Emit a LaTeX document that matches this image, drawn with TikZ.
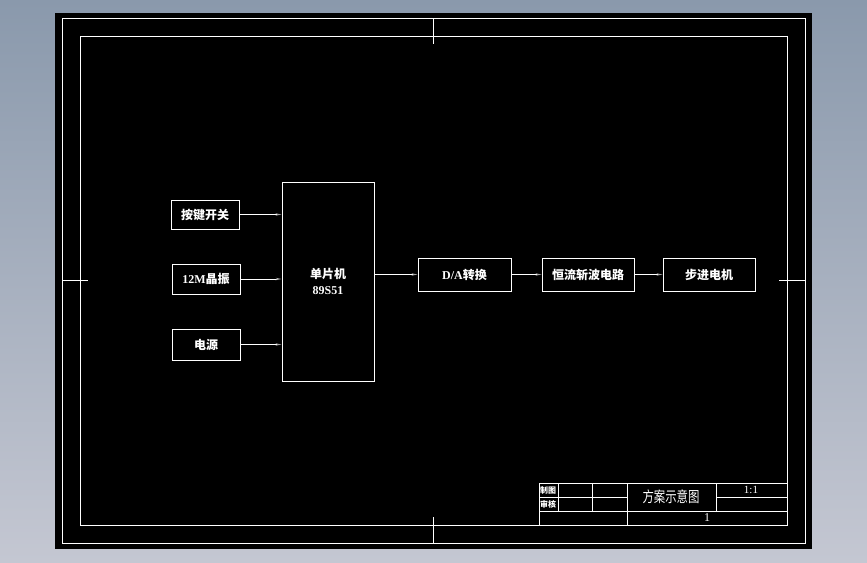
\documentclass[tikz,border=0pt]{standalone}
\usepackage{fontspec}
\setmainfont{Liberation Serif}
\newfontfamily\cjk{Noto Sans CJK SC}
\usetikzlibrary{arrows.meta, positioning, calc}
\definecolor{bgtop}{RGB}{138,153,172}
\definecolor{bgbot}{RGB}{196,199,210}
\tikzset{
  frame line/.style={
    draw=white, line width=0.9pt
  },
  blk box/.style={
    rectangle, draw=white, line width=0.9pt, fill=black,
    text=white, align=center, inner sep=1pt,
    font=\bfseries\fontsize{12}{16}\selectfont
  },
  blk arrow/.style={
    draw=white, line width=0.9pt,
    -{Stealth[length=6pt, width=2.4pt, color=gray!70]}
  },
  tb text/.style={
    text=white, inner sep=0pt, font=\cjk\fontsize{8}{9}\selectfont
  }
}

\begin{document}
\begin{tikzpicture}[x=1pt, y=-1pt]
  \useasboundingbox (0,0) rectangle (867,562);
  \shade [top color=bgtop, bottom color=bgbot] (0,0) rectangle (867,562);
  \fill [black] (55,13) rectangle (812,549);

  % drawing frame and centre marks
  \draw [frame line] (62,18) rectangle (805,543);
  \draw [frame line] (80,36) rectangle (787,525);
  \draw [frame line] (433,18) -- (433,44);
  \draw [frame line] (433,517) -- (433,543);
  \draw [frame line] (62,280) -- (88,280);
  \draw [frame line] (779,280) -- (805,280);

  % blocks
  \node (key)   [blk box, minimum width=68pt, minimum height=29pt] at (205,214.5) {{\cjk 按键开关}};
  \node (xtal)  [blk box, minimum width=68pt, minimum height=30pt] at (206,279) {12M{\cjk 晶振}};
  \node (pwr)   [blk box, minimum width=68pt, minimum height=31pt] at (206,344.5) {{\cjk 电源}};
  \node (mcu)   [blk box, minimum width=92pt, minimum height=199pt] at (328,281.5) {{\cjk 单片机}\\89S51};
  \node (da)    [blk box, minimum width=93pt, minimum height=33pt] at (464.5,274.5) {D/A{\cjk 转换}};
  \node (chop)  [blk box, minimum width=92pt, minimum height=33pt] at (588,274.5) {{\cjk 恒流斩波电路}};
  \node (motor) [blk box, minimum width=92pt, minimum height=33pt] at (709,274.5) {{\cjk 步进电机}};

  \draw [blk arrow] (key.east) -- (key.east -| mcu.west);
  \draw [blk arrow] (xtal.east) -- (xtal.east -| mcu.west);
  \draw [blk arrow] (pwr.east) -- (pwr.east -| mcu.west);
  \draw [blk arrow] (da.west -| mcu.east) -- (da.west);
  \draw [blk arrow] (da) -- (chop);
  \draw [blk arrow] (chop) -- (motor);

  % title block
  \draw [frame line] (539,483) rectangle (787,525);
  \draw [frame line] (539,497) -- (627,497);
  \draw [frame line] (716,497) -- (787,497);
  \draw [frame line] (539,511) -- (787,511);
  \draw [frame line] (558,483) -- (558,511);
  \draw [frame line] (592,483) -- (592,511);
  \draw [frame line] (627,483) -- (627,525);
  \draw [frame line] (716,483) -- (716,511);

  \node (drawn)  [tb text, font=\cjk\bfseries\fontsize{8}{9}\selectfont] at (548,490) {制图};
  \node (check)  [tb text, font=\cjk\bfseries\fontsize{8}{9}\selectfont] at (548,504) {审核};
  \node (title)  [tb text, font=\cjk\fontsize{15}{17}\selectfont] at (671,497) {\scalebox{0.76}[1]{方案示意图}};
  \node (scale)  [tb text, font=\fontsize{11}{12}\selectfont] at (751,490) {1:1};
  \node (sheet)  [tb text, font=\fontsize{12}{13}\selectfont] at (707,518) {1};
\end{tikzpicture}
\end{document}
